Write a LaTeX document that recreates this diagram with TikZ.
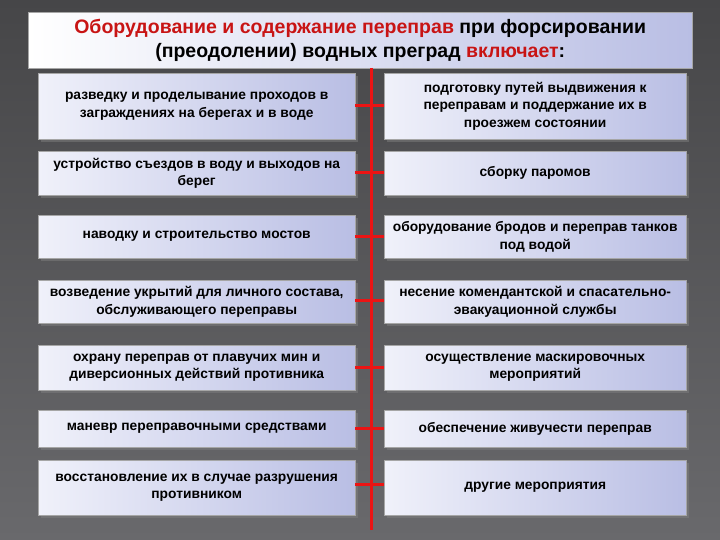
\documentclass[tikz,border=0pt]{standalone}
\usepackage{fontspec}
\usetikzlibrary{shadows}
\setmainfont{Liberation Sans}
\begin{document}
\begin{tikzpicture}[x=1pt,y=-1pt,
  bx/.style={draw=gray!70,left color={rgb,255:red,240;green,241;blue,250},right color={rgb,255:red,185;green,190;blue,228},minimum width=317pt,anchor=north west,align=center,font=\bfseries\fontsize{13.8}{17.5}\selectfont,inner sep=2pt,drop shadow={opacity=0.5}},
  rb/.style={bx,minimum width=302pt},
  tk/.style={draw={rgb,255:red,235;green,20;blue,20},line width=3pt}]
\definecolor{tred}{RGB}{200,20,20}
\fill[top color={rgb,255:red,70;green,70;blue,72},bottom color={rgb,255:red,105;green,105;blue,108}] (0,0) rectangle (720,540);
\useasboundingbox (0,0) rectangle (720,540);
\node[draw=gray!70,left color=white,right color={rgb,255:red,185;green,190;blue,228},minimum width=664pt,minimum height=56pt,anchor=north west,align=center,font=\bfseries\fontsize{19.5}{24}\selectfont] (t) at (28,12) {\textcolor{tred}{Оборудование и содержание переправ} при форсировании\\(преодолении) водных преград \textcolor{tred}{включает}:};
\coordinate (top) at (371,68);
\coordinate (bot) at (371,530);
\draw[tk] (top) -- (bot);
\newcommand{\rowpair}[6]{%
  \node[bx,minimum height=#2pt] (l#1) at (38,#3) {#5};
  \node[rb,minimum height=#2pt] (r#1) at (384,#3) {#6};
  \coordinate (c#1) at (371,#4);
  \draw[tk] (l#1.east|-c#1) -- (c#1) -- (r#1.west|-c#1);}
\rowpair{1}{66}{73}{106}{разведку и проделывание проходов в\\заграждениях на берегах и в воде}{подготовку путей выдвижения к\\переправам и поддержание их в\\проезжем состоянии}
\rowpair{2}{44}{151}{173}{устройство съездов в воду и выходов на\\берег}{сборку паромов}
\rowpair{3}{43}{215}{236}{наводку и строительство мостов}{оборудование бродов и переправ танков\\под водой}
\rowpair{4}{43}{280}{300}{возведение укрытий для личного состава,\\обслуживающего переправы}{несение комендантской и спасательно-\\эвакуационной службы}
\rowpair{5}{45}{345}{367}{охрану переправ от плавучих мин и\\диверсионных действий противника}{осуществление маскировочных\\мероприятий}
\rowpair{6}{37}{410}{428}{маневр переправочными средствами}{обеспечение живучести переправ}
\rowpair{7}{55}{460}{484}{восстановление их в случае разрушения\\противником}{другие мероприятия}
\end{tikzpicture}
\end{document}
